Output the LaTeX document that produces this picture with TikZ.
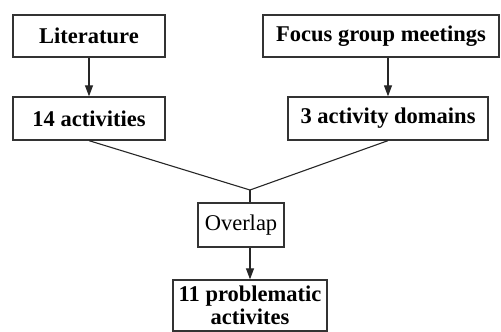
\documentclass[tikz,border=0pt]{standalone}
\usepackage{fontspec}
\setmainfont{Liberation Serif}
\usetikzlibrary{arrows.meta}
\begin{document}
\begin{tikzpicture}[x=1pt,y=-1pt,
  box/.style={draw=black!80, line width=1.3pt, inner sep=0pt, align=center,
    font=\fontsize{22.5}{23}\selectfont},
  bbox/.style={box, font=\fontsize{22.5}{23}\selectfont\bfseries},
  conn/.style={draw=black!85, line width=1.1pt},
  arr/.style={conn, -{Triangle[length=11pt,width=8pt]}}]
\useasboundingbox (0,0) rectangle (501,332);
\node[bbox, minimum width=152pt, minimum height=42pt] (lit) at (89,36) {Literature};
\node[bbox, minimum width=236pt, minimum height=42pt] (foc) at (381,36) {Focus group meetings};
\node[bbox, minimum width=152pt, minimum height=43pt] (act) at (89,118.5) {14 activities};
\node[bbox, minimum width=200pt, minimum height=43pt] (dom) at (388,118.5) {3 activity domains};
\node[box, minimum width=86pt, minimum height=44pt] (ovl) at (241,225) {Overlap};
\node[bbox, minimum width=154pt, minimum height=51pt] (pro) at (250,305.5) {11 problematic\\activites};
\coordinate (j) at (250,190);
\draw[arr] (lit) -- (act);
\draw[arr] (dom.north |- foc.south) -- (dom.north);
\draw[conn] (act.south) -- (j) -- (dom.south);
\draw[conn] (j) -- (j |- ovl.north);
\draw[arr] (ovl.south -| j) -- (pro.north);
\end{tikzpicture}
\end{document}
